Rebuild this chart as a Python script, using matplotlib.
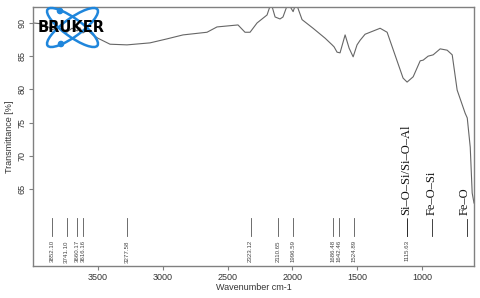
import matplotlib.pyplot as plt
from matplotlib.patches import Ellipse, Circle

# spectrum (wavenumber, transmittance)
wavenumber = [4000, 3950, 3900, 3852, 3800, 3741, 3700, 3660, 3640, 3616, 3580, 3540,
              3500, 3407, 3276, 3099, 2968, 2844, 2659, 2582, 2420, 2366, 2327, 2273,
              2196, 2165, 2134, 2096, 2073, 2034, 1995, 1972, 1926, 1841, 1748, 1694,
              1679, 1656, 1633, 1594, 1563, 1532, 1502, 1478, 1440, 1324, 1270, 1147,
              1116, 1069, 1015, 992, 954, 915, 861, 807, 768, 730, 668, 652, 629, 614,
              600]
transmittance = [90.0, 89.9, 89.6, 89.0, 89.3, 88.6, 89.2, 88.8, 89.3, 88.5, 88.9, 88.2,
                 87.7, 86.8, 86.7, 87.0, 87.6, 88.2, 88.6, 89.4, 89.7, 88.6, 88.6, 90.0,
                 91.2, 93.0, 90.9, 90.6, 90.9, 93.0, 91.7, 93.0, 90.5, 89.2, 87.7, 86.7,
                 86.4, 85.6, 85.5, 88.2, 86.2, 84.9, 86.7, 87.4, 88.3, 89.2, 88.6, 81.7,
                 81.1, 81.9, 84.3, 84.4, 85.0, 85.2, 86.1, 85.9, 85.2, 79.9, 76.4, 75.7,
                 71.3, 64.4, 62.9]

peaks = [3852.10, 3741.10, 3660.17, 3616.16, 3277.58, 2323.12, 2110.65, 1996.59,
         1686.48, 1642.46, 1524.89, 1115.63]

bands = ['Si\u2013O\u2013Si/Si\u2013O\u2013Al', 'Fe\u2013O\u2013Si', 'Fe\u2013O']
band_pos = [1123, 930, 675]
band_line = [1115, 923, 653]

grey = '#808080'
plt.rcParams['font.family'] = ['Liberation Sans', 'DejaVu Sans']

fig = plt.figure(figsize=(4.8, 2.98), dpi=100)
ax = fig.add_axes([0.069, 0.107, 0.9185, 0.8695])

ax.plot(wavenumber, transmittance, color='#666666', lw=0.8)
ax.set_xlim(4000, 600)
ax.set_ylim(53.4, 92.4)
ax.set_xticks([3500, 3000, 2500, 2000, 1500, 1000])
ax.set_yticks([65, 70, 75, 80, 85, 90])
ax.tick_params(labelsize=6.5, length=3, width=0.8, color=grey, pad=2,
               labelcolor='#333333')
for lab in ax.get_yticklabels():
    lab.set_rotation(90)
    lab.set_va('center')
for s in ax.spines.values():
    s.set_color(grey)
    s.set_linewidth(1)

ax.set_xlabel('Wavenumber cm-1', fontsize=6.5, color='#333333', labelpad=1)
ax.set_ylabel('Transmittance [%]', fontsize=6.5, color='#333333', labelpad=2)

for p in peaks:
    ax.plot([p, p], [57.9, 60.6], color='#555555', lw=0.6)
    ax.text(p, 57.3, f'{p:.2f}', rotation=90, fontsize=4.4, ha='center',
            va='top', color='#444444')

for name, xp, xl in zip(bands, band_pos, band_line):
    ax.plot([xl, xl], [57.9, 60.5], color='#222222', lw=0.6)
    ax.text(xp, 61.1, name, rotation=90, fontsize=9, ha='center', va='bottom',
            family=['Liberation Serif', 'DejaVu Serif'], color='#111111')

# logo overlay in pixel coordinates
ov = fig.add_axes([0, 0, 1, 1], zorder=5)
ov.set_xlim(0, 480)
ov.set_ylim(298, 0)
ov.axis('off')
ov.patch.set_alpha(0)
blue = '#1f86dc'
for ang in (36, -36):
    ov.add_patch(Ellipse((72.5, 27.5), 61.6, 18, angle=ang, fill=False,
                         ec=blue, lw=1.8))
ov.add_patch(Circle((60, 11), 2.6, color=blue))
ov.add_patch(Circle((61, 44), 2.6, color=blue))
ov.text(71, 28, 'BRUKER', fontsize=10.5, fontweight='heavy', color='black',
        ha='center', va='center', family='DejaVu Sans')

fig.savefig('out.png', dpi=100)
